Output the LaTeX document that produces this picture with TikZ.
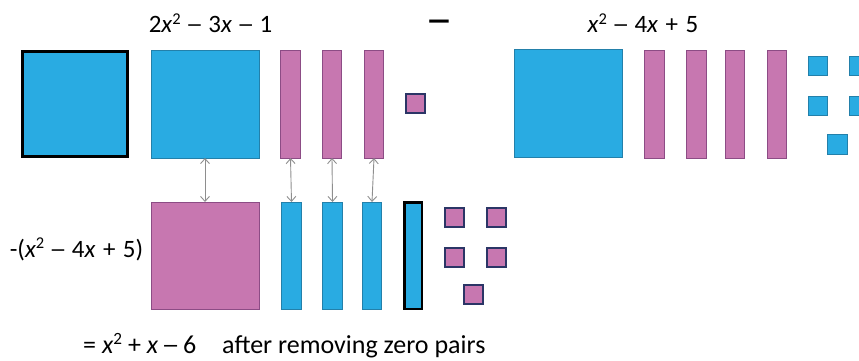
\documentclass[tikz,border=0pt]{standalone}
\usepackage{graphicx}
\usepackage{fontspec}
\setmainfont{Carlito}
\usetikzlibrary{arrows.meta}

\definecolor{tileblue}{HTML}{29ABE2}
\definecolor{tileblueedge}{HTML}{2380AA}
\definecolor{tilepink}{HTML}{C777B0}
\definecolor{tilepinkedge}{HTML}{8C4C85}
\definecolor{unitedge}{HTML}{2B3566}
\definecolor{pairarrow}{HTML}{8E8E8E}

% italic variable, squared exponent set close to the letters,
% and a minus drawn longer while keeping the advance of an en dash
\newcommand{\vx}{\textit{x}}
\newcommand{\sqr}{\raisebox{0.33em}{\fontsize{0.66em}{0.66em}\selectfont 2}}
\newcommand{\mns}{\makebox[0.5em][c]{\scalebox{1.4}[1]{–}}}
% slightly wider interword space for the expressions
\newcommand{\widesp}{\spaceskip=0.3em\relax}

\tikzset{
  tile/.style={rectangle, inner sep=0pt, outer sep=0pt},
  bigblue/.style={tile, fill=tileblue, draw=tileblueedge, line width=0.8pt,
    minimum width=108pt, minimum height=108pt},
  bigpink/.style={tile, fill=tilepink, draw=tilepinkedge, line width=0.8pt,
    minimum width=108pt, minimum height=107pt},
  barpink/.style={tile, fill=tilepink, draw=tilepinkedge, line width=0.8pt,
    minimum width=19.5pt, minimum height=108pt},
  barblue/.style={tile, fill=tileblue, draw=tileblueedge, line width=0.8pt,
    minimum width=19.5pt, minimum height=107pt},
  unitblue/.style={tile, fill=tileblue, draw=tileblueedge, line width=0.8pt,
    minimum width=19.5pt, minimum height=19.5pt},
  unitpink/.style={tile, fill=tilepink, draw=unitedge, line width=2pt,
    minimum width=19pt, minimum height=19pt},
  heavy/.style={draw=black, line width=3pt},
  label/.style={inner sep=0pt, font=\fontsize{25}{30}\selectfont},
  expr/.style={inner sep=0pt, font=\fontsize{25}{30}\selectfont\widesp},
  pair/.style={draw=pairarrow, line width=0.9pt,
    {Straight Barb[length=5pt,width=9pt]}-{Straight Barb[length=5pt,width=9pt]}}
}

\begin{document}
\begin{tikzpicture}[x=1pt, y=-1pt]
\useasboundingbox (0,0) rectangle (859,361);
\clip (0,0) rectangle (859,361);

% first polynomial: 2x^2 - 3x - 1
\node[bigblue, heavy, minimum width=105pt, minimum height=105pt] (sqA) at (74.5,104) {};
\node[bigblue] (sqB) at (205,104) {};
\node[barpink] (tbar1) at (290.5,104) {};
\node[barpink] (tbar2) at (332,104) {};
\node[barpink] (tbar3) at (374,104) {};
\node[unitpink] (tunit) at (415.5,103.5) {};

% second polynomial: x^2 - 4x + 5
\node[bigblue] (sqC) at (568.5,103.5) {};
\node[barpink] (rbar1) at (654.5,104) {};
\node[barpink] (rbar2) at (696.5,104) {};
\node[barpink] (rbar3) at (735,104) {};
\node[barpink] (rbar4) at (777,104) {};
\node[unitblue] (ru1) at (818,66) {};
\node[unitblue] (ru2) at (859.5,66) {};
\node[unitblue] (ru3) at (818,106) {};
\node[unitblue] (ru4) at (859.5,106) {};
\node[unitblue] (ru5) at (837.5,144.5) {};

% opposite of the second polynomial
\node[bigpink] (sqD) at (205,255.5) {};
\node[barblue] (bbar1) at (291.5,255.5) {};
\node[barblue] (bbar2) at (332.5,255.5) {};
\node[barblue] (bbar3) at (372,255.5) {};
\node[barblue, draw=black, line width=2.5pt, minimum width=17.5pt, minimum height=106.5pt] (bbar4) at (413,255.5) {};
\node[unitpink] (bu1) at (454.5,217) {};
\node[unitpink] (bu2) at (496.5,217) {};
\node[unitpink] (bu3) at (454.5,257) {};
\node[unitpink] (bu4) at (496.5,257) {};
\node[unitpink] (bu5) at (473.5,294.5) {};

% zero pairs
\draw[pair] (sqB.south) -- (sqD.north);
\draw[pair] (tbar1.south) -- (bbar1.north);
\draw[pair] (tbar2.south) -- (bbar2.north);
\draw[pair] (tbar3.south) -- (bbar3.north);

% labels
\node[expr, anchor=base] (lblA) at (210.5,33) {2\vx\sqr{} \mns{} 3\vx{} \mns{} 1};
\node[label, anchor=center, font=\fontsize{25}{30}\selectfont\bfseries] (lblMinus) at (439,25.5) {\scalebox{2.2}[1.4]{–}};
\node[expr, anchor=base] (lblB) at (643,32.5) {\vx\sqr{} \mns{} 4\vx{} + 5};
\node[expr, anchor=base] (lblC) at (76.5,257) {-(\vx\sqr{} \mns{} 4\vx{} + 5)};
\node[label, anchor=base west, font=\fontsize{26}{30}\selectfont] (lblD) at (83,353) {= \vx\sqr{} + \vx{} \mns{} 6\quad after removing zero pairs};
\end{tikzpicture}
\end{document}
